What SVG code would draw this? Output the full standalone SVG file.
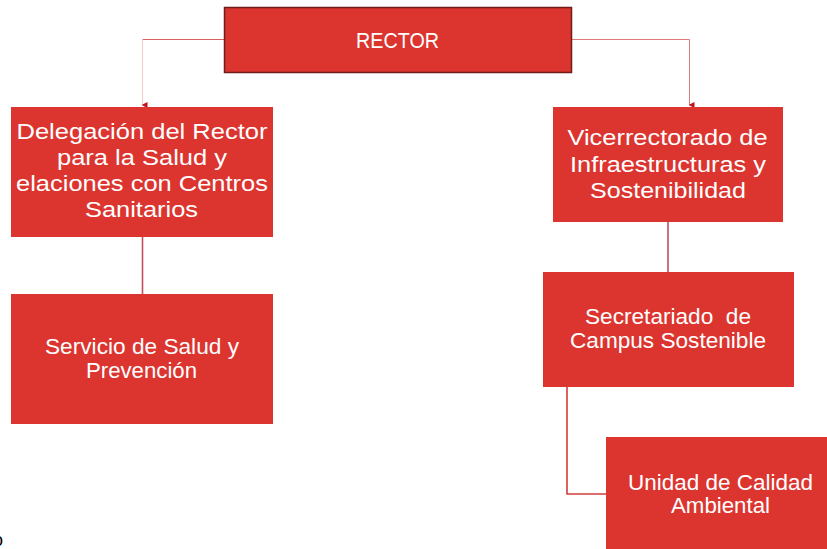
<svg xmlns="http://www.w3.org/2000/svg" width="827" height="549" viewBox="0 0 827 549">
<defs>
<style>
.box{fill:#dc352f;}
.t{font-family:"Liberation Sans",Arial,sans-serif;font-size:22.5px;fill:#ffffff;text-anchor:middle;}
.c{fill:none;}
</style>
<marker id="ah" viewBox="0 0 6 6" refX="3" refY="5" markerWidth="6" markerHeight="6" markerUnits="userSpaceOnUse" orient="auto-start-reverse">
<path d="M0,0 L6,0 L3,6 Z" fill="#c0141a"/>
</marker>
</defs>
<rect width="827" height="549" fill="#ffffff"/>
<g id="connectors">
<path class="c" d="M224,39.5 H142.5" stroke="#d9605e" stroke-width="1"/>
<path class="c" d="M142.5,39.5 V105" stroke="#f4cfcf" stroke-width="1.2" marker-end="url(#ah)"/>
<path class="c" d="M572,39.5 H689.5 V105" stroke="#e07a78" stroke-width="1" marker-end="url(#ah)"/>
<path class="c" d="M142.5,237 V294" stroke="#c0505a" stroke-width="1.6"/>
<path class="c" d="M668,222 V272" stroke="#c0505a" stroke-width="1.6"/>
<path class="c" d="M567,387 V494 H606" stroke="#d43c3a" stroke-width="1.6"/>
</g>
<g id="rector">
<rect class="box" x="224.5" y="7.5" width="347" height="65" stroke="#6e1d1b" stroke-width="1.5"/>
<text class="t" x="397.5" y="47.5" textLength="83" lengthAdjust="spacingAndGlyphs" font-size="21">RECTOR</text>
</g>
<g id="delegacion">
<rect class="box" x="11" y="107" width="262" height="130"/>
<text class="t" x="142" y="139" textLength="251" lengthAdjust="spacingAndGlyphs">Delegación del Rector</text>
<text class="t" x="142" y="165" textLength="170" lengthAdjust="spacingAndGlyphs">para la Salud y</text>
<text class="t" x="142" y="191" textLength="252" lengthAdjust="spacingAndGlyphs">elaciones con Centros</text>
<text class="t" x="141.5" y="217" textLength="113" lengthAdjust="spacingAndGlyphs">Sanitarios</text>
</g>
<g id="servicio">
<rect class="box" x="11" y="294" width="262" height="130"/>
<text class="t" x="142" y="354" textLength="194" lengthAdjust="spacingAndGlyphs">Servicio de Salud y</text>
<text class="t" x="141.5" y="378" textLength="111" lengthAdjust="spacingAndGlyphs">Prevención</text>
</g>
<g id="vicerrectorado">
<rect class="box" x="553" y="107" width="230" height="115"/>
<text class="t" x="667.5" y="145" textLength="200" lengthAdjust="spacingAndGlyphs">Vicerrectorado de</text>
<text class="t" x="668" y="171.5" textLength="196" lengthAdjust="spacingAndGlyphs">Infraestructuras y</text>
<text class="t" x="668" y="198" textLength="156" lengthAdjust="spacingAndGlyphs">Sostenibilidad</text>
</g>
<g id="secretariado">
<rect class="box" x="543" y="272" width="251" height="115"/>
<text class="t" x="668" y="324" textLength="166" lengthAdjust="spacingAndGlyphs" xml:space="preserve">Secretariado  de</text>
<text class="t" x="668" y="348" textLength="196" lengthAdjust="spacingAndGlyphs">Campus Sostenible</text>
</g>
<g id="unidad">
<rect class="box" x="606" y="437" width="221" height="112"/>
<text class="t" x="720.5" y="490" textLength="185" lengthAdjust="spacingAndGlyphs">Unidad de Calidad</text>
<text class="t" x="720.5" y="513" textLength="99" lengthAdjust="spacingAndGlyphs">Ambiental</text>
</g>
<text x="-7" y="546" font-family="Liberation Sans, Arial, sans-serif" font-size="18" fill="#000000">o</text>
</svg>
